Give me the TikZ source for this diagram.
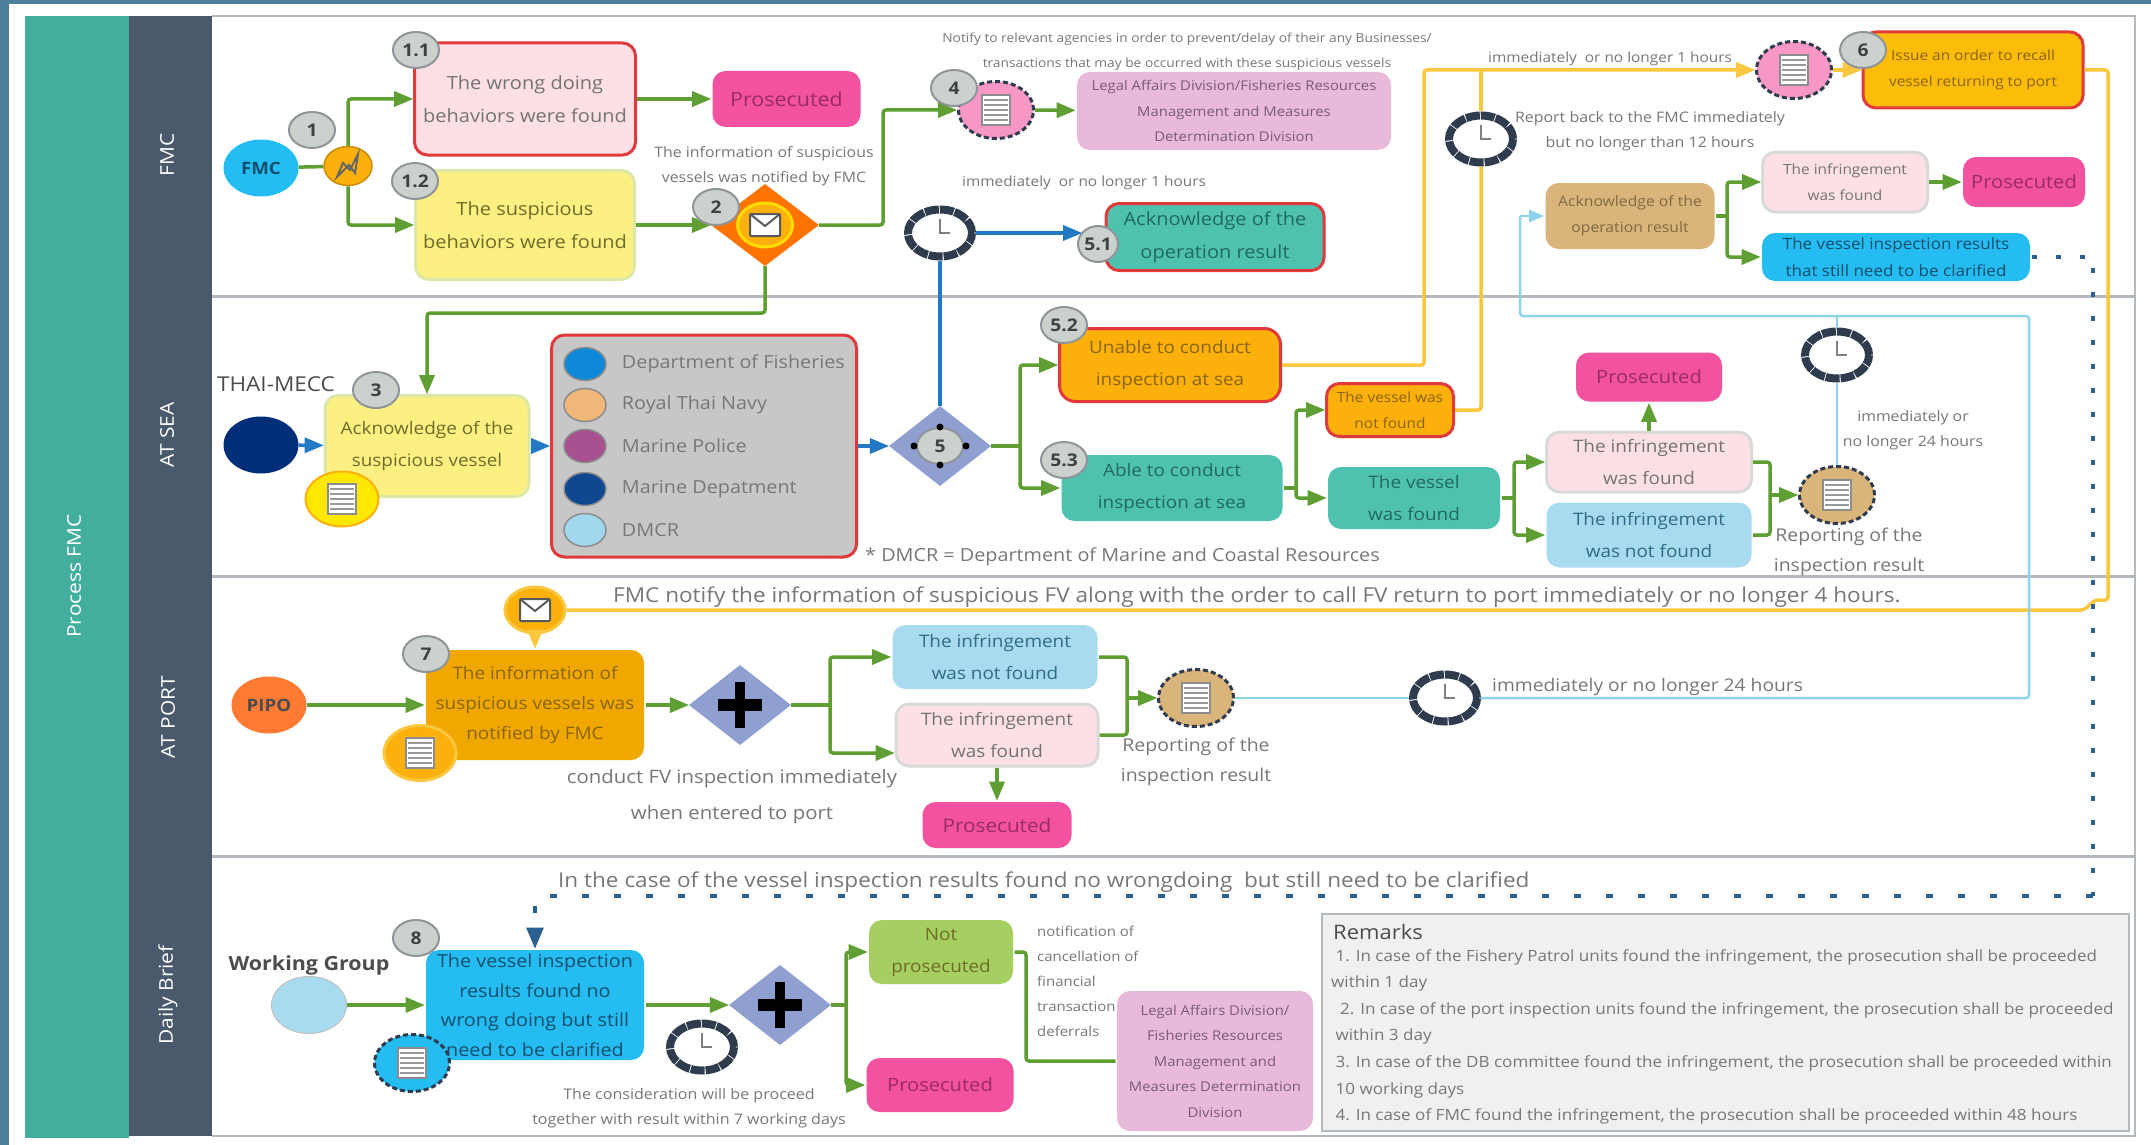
\documentclass[tikz,border=0pt]{standalone}
\usepackage{fontspec}
\setmainfont{Open Sans}[FakeStretch=1.1]
\usepackage{tikz}
\usetikzlibrary{positioning,shapes.geometric,arrows}

\definecolor{framesteel}{HTML}{4E7F9A}
\definecolor{bandteal}{HTML}{44AE9E}
\definecolor{bandslate}{HTML}{4A5A6C}
\definecolor{laneline}{HTML}{B4B9BF}
\definecolor{flowgreen}{HTML}{5F9E32}
\definecolor{seablue}{HTML}{2379C4}
\definecolor{sunline}{HTML}{FAC73E}
\definecolor{skyline}{HTML}{8CD3EC}
\definecolor{dotblue}{HTML}{2B5F8F}
\definecolor{redline}{HTML}{E2393C}
\definecolor{paleline}{HTML}{DCE8A8}
\definecolor{pinkfill}{HTML}{FDE0E6}
\definecolor{yellowfill}{HTML}{FDF082}
\definecolor{prosfill}{HTML}{F2529F}
\definecolor{tealfill}{HTML}{4FC2AF}
\definecolor{orangefill}{HTML}{FBB00C}
\definecolor{amberfill}{HTML}{F0A800}
\definecolor{lilacfill}{HTML}{E8B9D8}
\definecolor{tanfill}{HTML}{D9B57C}
\definecolor{cyanfill}{HTML}{25BCF1}
\definecolor{paleblue}{HTML}{A8DAF0}
\definecolor{limefill}{HTML}{A5CF60}
\definecolor{diamondfill}{HTML}{8E9FD0}
\definecolor{clockdark}{HTML}{2F3C4E}
\definecolor{badgefill}{HTML}{CBD2CE}
\definecolor{notegray}{HTML}{777777}
\definecolor{textolive}{HTML}{6F6C2A}
\definecolor{textteal}{HTML}{1F6A62}
\definecolor{textamber}{HTML}{8A6414}
\definecolor{textpros}{HTML}{9A2A68}
\definecolor{textsky}{HTML}{2F6C88}
\definecolor{textdeep}{HTML}{124E6E}
\definecolor{textlilac}{HTML}{7A5A80}
\definecolor{texttan}{HTML}{806A40}

\begin{document}
\begin{tikzpicture}[
				x=1pt, y=-1pt,
				box/.style={rectangle, rounded corners=13pt, align=center, inner sep=0pt, line width=3pt},
				oval/.style={ellipse, minimum width=75pt, minimum height=57pt, inner sep=0pt},
				badge/.style={ellipse, draw=laneline!80!black, fill=badgefill, line width=2pt, minimum width=46pt, minimum height=36pt, inner sep=0pt, font=\fontsize{17.5}{22}\selectfont\bfseries, text=black!75},
				icon/.style={oval, draw=clockdark, line width=3pt, dash pattern=on 5pt off 3pt},
				clock/.style={ellipse, draw=clockdark, fill=white, line width=8pt, dash pattern=on 14pt off 1pt, minimum width=64pt, minimum height=47pt},
				gate/.style={diamond, fill=diamondfill, minimum width=102pt, minimum height=80pt, inner sep=0pt},
				pros/.style={box, fill=prosfill, text=textpros, minimum width=148pt, minimum height=56pt, font=\fontsize{18.3}{22}\selectfont},
				big/.style={font=\fontsize{18.2}{33}\selectfont},
				mid/.style={font=\fontsize{17.2}{32}\selectfont},
				small/.style={font=\fontsize{14}{26.5}\selectfont},
				tiny/.style={font=\fontsize{14.4}{25}\selectfont},
				note/.style={align=center, inner sep=0pt, text=notegray},
				band/.style={rotate=90, text=white, inner sep=0pt, font=\fontsize{19}{24}\selectfont},
				link/.style={draw=flowgreen, line width=3.5pt, rounded corners=3pt},
				flow/.style={link, -triangle 45},
				seaflow/.style={flow, draw=seablue},
				sunlink/.style={link, draw=sunline},
				sunflow/.style={flow, draw=sunline},
				skylink/.style={link, draw=skyline, line width=2.5pt},
				dotlink/.style={draw=dotblue, line width=4pt, dash pattern=on 7pt off 25pt, -triangle 45},
				docmark/.pic={
					\draw[fill=white, draw=black!45, line width=1.5pt] (-14,-15) rectangle (14,15);
					\foreach \ty in {-10,-5,0,5,10} \draw[black!40, line width=2pt] (-12,\ty) -- (12,\ty);
				},
				mailmark/.pic={
					\draw[fill=white, draw=black!65, line width=2pt, rounded corners=1pt] (-15,-11) rectangle (15,11);
					\draw[draw=black!65, line width=2pt] (-15,-11) -- (0,1) -- (15,-11);
				},
				zapmark/.pic={
					\draw[draw=black!60, line width=2pt] (-11,11) -- (-5,-3) -- (2,4) -- (10,-12) -- (7,7) -- (1,-1) -- cycle;
				},
				plusmark/.pic={
					\fill (-5,-23) rectangle (5,23);
					\fill (-22,-6) rectangle (22,6);
				}
				]
				\useasboundingbox (0,0) rectangle (2151,1145);
				\fill[white] (0,0) rectangle (2151,1145);
				\fill[framesteel] (0,0) rectangle (2151,4);
				\fill[framesteel] (0,0) rectangle (9,1145);
				\fill[bandteal] (25,16) rectangle (129,1138);
				\fill[bandslate] (129,16) rectangle (212,1136);
				\draw[laneline, line width=2pt] (212,16) -- (2135,16) -- (2135,1136) -- (212,1136);
				\draw[laneline, line width=3pt] (212,296) -- (2135,296);
				\draw[laneline, line width=3pt] (212,576) -- (2135,576);
				\draw[laneline, line width=3pt] (212,856) -- (2135,856);

				\node[band] (bandproc) at (74,576) {Process FMC};
				\node[band] (bandfmc) at (167,155) {FMC};
				\node[band] (bandsea) at (167,435) {AT SEA};
				\node[band] (bandport) at (168,717) {AT PORT};
				\node[band] (bandbrief) at (168,995) {Daily Brief};

				\node[oval, fill=cyanfill, text=textdeep, minimum height=57pt, font=\fontsize{17}{22}\selectfont\bfseries] (fmc) at (261,168) {FMC};
				\node[oval, draw=orangefill!80!black, fill=orangefill, line width=1.5pt, minimum width=48pt, minimum height=39pt] (trig) at (348,166) {};
				\node[box, big, draw=redline, fill=pinkfill, text=black!55, minimum width=221pt, minimum height=112pt] (box11) at (525,99) {The wrong doing\\behaviors were found};
				\node[pros, right=74pt of box11, font=\fontsize{19.5}{22}\selectfont] (prosa) {Prosecuted};
				\node[box, big, draw=paleline, fill=yellowfill, text=textolive, minimum width=219pt, minimum height=109pt] (box12) at (525,225) {The suspicious\\behaviors were found};
				\node[gate, fill=orange!90!red, minimum width=108pt, minimum height=82pt] (diam2) at (765,225) {};
				\node[oval, draw=yellow!80!orange, fill=orangefill, line width=3pt, minimum width=55pt, minimum height=44pt] (mailtop) at (765,225) {};
				\node[note, tiny] (notesus) at (764,166) {The information of suspicious\\vessels was notified by FMC};
				\node[icon, fill=prosfill!60!white] (icon4) at (996,110) {};
				\node[box, fill=lilacfill, text=textlilac, minimum width=314pt, minimum height=78pt, font=\fontsize{13.5}{25.5}\selectfont] (legala) at (1234,111) {Legal Affairs Division/Fisheries Resources\\Management and Measures\\Determination Division};
				\node[note, font=\fontsize{12.5}{25}\selectfont] (notenotify) at (1187,52) {Notify to relevant agencies in order to prevent/delay of their any Businesses/\\transactions that may be occurred with these suspicious vessels};
				\node[clock] (clocka) at (940,233) {};
				\node[note, font=\fontsize{14}{25}\selectfont] (notea) at (1084,183) {immediately\ \ or no longer 1 hours};
				\coordinate (tipa) at (1082,233);
				\node[box, big, draw=redline, fill=tealfill, text=textteal, minimum width=218pt, minimum height=67pt] (box51) at (1215,237) {Acknowledge of the\\operation result};

				\node[note, font=\fontsize{14}{25}\selectfont] (noteb) at (1610,59) {immediately\ \ or no longer 1 hours};
				\node[icon, fill=prosfill!60!white] (icon6) at (1794,70) {};
				\node[box, small, draw=redline, fill=orangefill!85!yellow, text=textamber, minimum width=220pt, minimum height=76pt] (box6) at (1973,70) {Issue an order to recall\\vessel returning to port};
				\node[clock] (clockb) at (1481,139) {};
				\node[note, font=\fontsize{14.5}{25}\selectfont] (notec) at (1650,131) {Report back to the FMC immediately\\but no longer than 12 hours};
				\node[box, fill=tanfill, text=texttan, minimum width=169pt, minimum height=66pt, font=\fontsize{14.3}{26}\selectfont] (boxack) at (1630,216) {Acknowledge of the\\operation result};
				\node[box, small, draw=black!15, fill=pinkfill, text=black!55, minimum width=165pt, minimum height=60pt] (infc) at (1845,182) {The infringement\\was found};
				\node[pros, minimum width=122pt, minimum height=50pt] (prose) at (2024,182) {Prosecuted};
				\node[box, fill=cyanfill, text=textdeep, minimum width=268pt, minimum height=48pt, font=\fontsize{15.5}{26.5}\selectfont] (boxclar) at (1896,257) {The vessel inspection results\\that still need to be clarified};

				\node[inner sep=0pt, text=black!70, font=\fontsize{20.5}{22}\selectfont] (mecc) at (276,384) {THAI-MECC};
				\node[oval, fill=black!30!blue!70!cyan!60!black] (mcircle) at (261,445) {};
				\node[box, mid, draw=paleline, fill=yellowfill, text=textolive, minimum width=204pt, minimum height=101pt] (box3) at (427,446) {Acknowledge of the\\suspicious vessel};
				\node[box, draw=redline, fill=black!22, minimum width=305pt, minimum height=222pt] (agency) at (704,446) {};
				\foreach \aname/\ay/\acol/\atext in {dof/364/1088D8/Department of Fisheries, navy/405/F0B878/Royal Thai Navy, police/446/A85090/Marine Police, marine/489/104890/Marine Depatment, dmcr/530/A0D8F0/DMCR} {
					\definecolor{agencyfill}{HTML}{\acol}
					\node[ellipse, draw=black!45, fill=agencyfill, line width=1.5pt, minimum width=42pt, minimum height=33pt, inner sep=0pt] (\aname) at (585,\ay) {};
					\node[note, anchor=west, font=\fontsize{18}{22}\selectfont, right=15pt of \aname] (\aname text) {\atext};
				}
				\node[gate] (diam5) at (940,446) {};
				\node[note, anchor=west, font=\fontsize{18}{22}\selectfont] (notedmcr) at (865,557) {* DMCR = Department of Marine and Coastal Resources};
				\node[box, mid, draw=redline, fill=orangefill, text=textamber, minimum width=221pt, minimum height=73pt, rounded corners=16pt] (box52) at (1170,365) {Unable to conduct\\inspection at sea};
				\node[box, mid, fill=tealfill, text=textteal, minimum width=221pt, minimum height=66pt] (box53) at (1172,488) {Able to conduct\\inspection at sea};
				\node[box, small, draw=redline, fill=orangefill, text=textamber, minimum width=127pt, minimum height=53pt] (boxno) at (1390,410) {The vessel was\\not found};
				\node[box, mid, fill=tealfill, text=textteal, minimum width=172pt, minimum height=62pt] (boxfound) at (1414,498) {The vessel\\was found};
				\node[box, mid, draw=black!15, fill=pinkfill, text=black!55, minimum width=205pt, minimum height=60pt] (infa) at (1649,462) {The infringement\\was found};
				\node[box, mid, fill=paleblue, text=textsky, minimum width=205pt, minimum height=65pt] (infb) at (1649,535) {The infringement\\was not found};
				\node[pros, minimum width=146pt, minimum height=49pt] (prosc) at (1649,377) {Prosecuted};
				\node[icon, fill=tanfill] (iconrep) at (1837,495) {};
				\node[clock] (clockc) at (1837,355) {};
				\node[note, tiny] (noted) at (1913,430) {immediately or\\no longer 24 hours};
				\node[note, font=\fontsize{17.7}{30}\selectfont] (noterepa) at (1849,552) {Reporting of the\\inspection result};

				\node[oval, draw=sunline, fill=orangefill, line width=3pt, minimum width=60pt, minimum height=46pt] (mailb) at (535,610) {};
				\node[note, anchor=west, font=\fontsize{20.5}{24}\selectfont] (noteport) at (613,597) {FMC notify the information of suspicious FV along with the order to call FV return to port immediately or no longer 4 hours.};
				\node[oval, fill=orange!70!red!80!white, text=black!70, font=\fontsize{17}{22}\selectfont\bfseries] (pipo) at (269,705) {PIPO};
				\node[box, font=\fontsize{17.2}{30}\selectfont, fill=amberfill, text=textamber, minimum width=218pt, minimum height=110pt] (box7) at (535,705) {The information of\\suspicious vessels was\\notified by FMC};
				\node[oval, draw=sunline, fill=orangefill, line width=3pt, minimum width=72pt, minimum height=55pt] (iconport) at (420,753) {};
				\node[gate] (plusa) at (740,705) {};
				\node[box, mid, fill=paleblue, text=textsky, minimum width=205pt, minimum height=64pt] (porta) at (995,657) {The infringement\\was not found};
				\node[box, mid, draw=black!15, fill=pinkfill, text=black!55, minimum width=202pt, minimum height=62pt] (portb) at (997,735) {The infringement\\was found};
				\node[pros, minimum width=149pt, minimum height=46pt, font=\fontsize{18.8}{22}\selectfont] (prosd) at (997,825) {Prosecuted};
				\node[note, font=\fontsize{18.5}{36}\selectfont] (notecon) at (732,797) {conduct FV inspection immediately\\when entered to port};
				\node[icon, fill=tanfill] (iconrepb) at (1196,698) {};
				\node[note, font=\fontsize{17.7}{30}\selectfont] (noterepb) at (1196,762) {Reporting of the\\inspection result};
				\node[clock] (clockd) at (1445,698) {};
				\node[note, anchor=west, font=\fontsize{17.5}{22}\selectfont] (notee) at (1492,687) {immediately or no longer 24 hours};

				\node[note, anchor=west, font=\fontsize{20.5}{24}\selectfont] (notecase) at (558,882) {In the case of the vessel inspection results found no wrongdoing\ \ but still need to be clarified};
				\node[inner sep=0pt, text=black!70, font=\fontsize{19.5}{22}\selectfont\bfseries] (wglabel) at (309,965) {Working Group};
				\node[oval, draw=black!25, fill=paleblue, line width=1pt] (wg) at (309,1005) {};
				\node[box, font=\fontsize{18}{29.5}\selectfont, fill=cyanfill, text=textdeep, minimum width=218pt, minimum height=110pt] (box8) at (535,1005) {The vessel inspection\\results found no\\wrong doing but still\\need to be clarified};
				\node[icon, fill=cyanfill] (iconbrief) at (412,1063) {};
				\node[gate] (plusb) at (780,1005) {};
				\node[clock] (clocke) at (702,1047) {};
				\node[note, font=\fontsize{14.6}{25}\selectfont] (notecons) at (689,1108) {The consideration will be proceed\\together with result within 7 working days};
				\node[box, mid, fill=limefill, text=textolive, minimum width=144pt, minimum height=64pt] (notp) at (941,952) {Not\\prosecuted};
				\node[pros, minimum width=147pt, minimum height=54pt] (prosf) at (940,1085) {Prosecuted};
				\node[note, align=left, anchor=north west, font=\fontsize{13.6}{25}\selectfont] (notefin) at (1037,926) {notification of\\cancellation of\\financial\\transaction\\deferrals};
				\coordinate (bendd) at (1026,1061);
				\node[box, fill=lilacfill, text=textlilac, minimum width=196pt, minimum height=140pt, font=\fontsize{13.5}{25.5}\selectfont] (legalb) at (1215,1061) {Legal Affairs Division/\\Fisheries Resources\\Management and\\Measures Determination\\Division};
				\node[rectangle, draw=laneline, fill=black!6, line width=2pt, minimum width=807pt, minimum height=217pt] (remarks) at (1725,1022) {};
				\node[anchor=west, inner sep=0pt, text=black!70, font=\fontsize{20}{22}\selectfont] (remarkhead) at (1333,932) {Remarks};
				\node[note, align=left, anchor=north west, font=\fontsize{15.5}{26.6}\selectfont] (remarktext) at (1331,949) {\ 1. In case of the Fishery Patrol units found the infringement, the prosecution shall be proceeded\\within 1 day\\\ \ 2. In case of the port inspection units found the infringement, the prosecution shall be proceeded\\\ within 3 day\\\ 3. In case of the DB committee found the infringement, the prosecution shall be proceeded within\\\ 10 working days\\\ 4. In case of FMC found the infringement, the prosecution shall be proceeded within 48 hours};

				\coordinate (bendb) at (883,167);
				\coordinate (bendc) at (600,313);
				\coordinate (jfive) at (1020,446);
				\coordinate (jsix) at (1296,488);
				\coordinate (jfound) at (1514,498);
				\coordinate (jrep) at (1770,495);
				\coordinate (jack) at (1727,216);
				\coordinate (juna) at (1424,70);
				\coordinate (junb) at (1481,70);
				\coordinate (sunturn) at (2108,600);
				\coordinate (hopa) at (2095,600);
				\coordinate (hopb) at (2084,610);
				\coordinate (skya) at (2029,316);
				\coordinate (skyb) at (1520,216);
				\coordinate (skyc) at (1837,316);
				\coordinate (dota) at (2093,896);
				\coordinate (jport) at (830,705);
				\coordinate (jrepb) at (1127,698);
				\coordinate (jbrief) at (846,1005);

				\draw[link] (fmc) -- (trig);
				\draw[flow] (trig.north) |- (box11.west);
				\draw[flow] (trig.south) |- (box12.west);
				\draw[flow] (box11) -- (prosa);
				\draw[flow] (box12) -- (diam2);
				\draw[flow] (diam2.east) -| (bendb) |- (icon4.west);
				\draw[flow] (icon4) -- (legala);
				\draw[flow] (diam2.south) |- (bendc) -| (box3.north);
				\draw[seaflow] (mcircle) -- (box3);
				\draw[seaflow] (box3) -- (agency);
				\draw[seaflow] (agency) -- (diam5);
				\draw[link, draw=seablue] (diam5.north) -- (clocka.south);
				\draw[seaflow] (clocka.east) -- (tipa);
				\draw[link] (diam5.east) -- (jfive);
				\draw[flow] (jfive) |- (box52.west);
				\draw[flow] (jfive) |- (box53.west);
				\draw[link] (box53.east) -- (jsix);
				\draw[flow] (jsix) |- (boxno.west);
				\draw[flow] (jsix) |- (boxfound.west);
				\draw[link] (boxfound.east) -- (jfound);
				\draw[flow] (jfound) |- (infa.west);
				\draw[flow] (jfound) |- (infb.west);
				\draw[flow] (infa.north) -- (prosc.south);
				\draw[link] (infa.east) -| (jrep);
				\draw[link] (infb.east) -| (jrep);
				\draw[flow] (jrep) -- (iconrep.west);
				\draw[skylink] (iconrep.north) -- (clockc.south);
				\draw[skylink] (clockc.north) -- (skyc);
				\draw[sunflow] (box52.east) -| (juna) -- (icon6.west);
				\draw[sunlink] (boxno.east) -| (clockb.south);
				\draw[sunlink] (clockb.north) -- (junb);
				\draw[sunflow] (icon6) -- (box6);
				\draw[sunlink] (box6.east) -| (sunturn) -- (hopa) -- (hopb) -- (mailb.east);
				\draw[sunflow] (mailb.south) -- (box7.north);
				\draw[link] (boxack.east) -- (jack);
				\draw[flow] (jack) |- (infc.west);
				\draw[flow] (jack) |- (boxclar.west);
				\draw[flow] (infc) -- (prose);
				\draw[dotlink, dash pattern=on 5pt off 19pt, -] (boxclar.east) -| (dota);
				\draw[dotlink] (dota) -| (box8.north);
				\draw[flow] (pipo) -- (box7);
				\draw[flow] (box7) -- (plusa);
				\draw[link] (plusa.east) -- (jport);
				\draw[flow] (jport) |- (porta.west);
				\draw[flow] (jport) |- ([yshift=-18pt]portb.west);
				\draw[flow] (portb.south) -- (prosd.north);
				\draw[link] (porta.east) -| (jrepb);
				\draw[link] (portb.east) -| (jrepb);
				\draw[flow] (jrepb) -- (iconrepb.west);
				\draw[skylink] (iconrepb.east) -- (clockd.west);
				\draw[skylink] (clockd.east) -| (skya) -| (skyb);
				\draw[skylink, -triangle 45] (skyb) -- (boxack.west);
				\draw[flow] (wg) -- (box8);
				\draw[flow] (box8) -- (plusb);
				\draw[link] (plusb.east) -- (jbrief);
				\draw[flow] (jbrief) |- (notp.west);
				\draw[flow] (jbrief) |- (prosf.west);
				\draw[link] (notp.east) -| (bendd) -- (legalb.west);

				\foreach \iname in {icon4,icon6,iconrep,iconrepb,iconport,iconbrief} \pic at (\iname) {docmark};
				\node[oval, draw=orangefill, fill=yellow!90!orange, line width=2pt, minimum width=73pt, minimum height=55pt] (iconthree) at (342,499) {};
				\pic at (iconthree) {docmark};
				\foreach \cname in {clocka,clockb,clockc,clockd,clocke} \draw[black!50, line width=2pt] ([yshift=14pt]\cname.center) -- (\cname.center) -- ([xshift=10pt]\cname.center);
				\foreach \mname in {mailtop,mailb} \pic at (\mname) {mailmark};
				\pic at (trig) {zapmark};
				\foreach \pname in {plusa,plusb} \pic at (\pname) {plusmark};

				\node[badge] (bone) at (312,130) {1};
				\node[badge] (boneone) at (416,50) {1.1};
				\node[badge] (bonetwo) at (415,181) {1.2};
				\node[badge] (btwo) at (716,207) {2};
				\node[badge] (bthree) at (376,390) {3};
				\node[badge] (bfour) at (954,88) {4};
				\node[badge] (bfive) at (940,446) {5};
				\foreach \dx/\dy in {0/-19,0/19,-26/0,26/0} \fill ([shift={(\dx pt,\dy pt)}]bfive.center) circle (3.5pt);
				\node[badge, minimum width=40pt] (bfiveone) at (1098,244) {5.1};
				\node[badge] (bfivetwo) at (1064,325) {5.2};
				\node[badge] (bfivethree) at (1064,460) {5.3};
				\node[badge] (bsix) at (1863,50) {6};
				\node[badge] (bseven) at (426,654) {7};
				\node[badge] (beight) at (416,938) {8};
			\end{tikzpicture}
\end{document}
